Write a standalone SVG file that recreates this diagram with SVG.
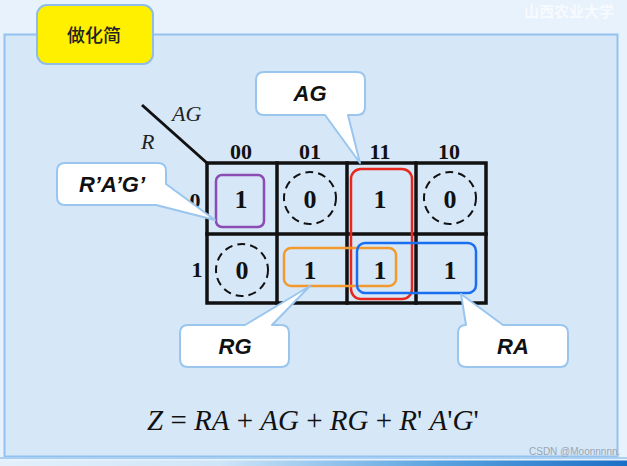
<svg xmlns="http://www.w3.org/2000/svg" width="627" height="466" viewBox="0 0 627 466">
<defs>
<linearGradient id="bar" x1="0" y1="0" x2="1" y2="0">
<stop offset="0" stop-color="#e3f0fb"/>
<stop offset="0.35" stop-color="#cfe5f8"/>
<stop offset="0.7" stop-color="#5aa3e0"/>
<stop offset="1" stop-color="#1c6fc6"/>
</linearGradient>
<style>
.callout{fill:#ffffff;stroke:#9ac6ee;stroke-width:2;stroke-linejoin:round}
.ctext{font-family:"Liberation Sans",Arial,sans-serif;font-weight:bold;font-style:italic;font-size:22px;fill:#111;text-anchor:middle}
.grid{fill:none;stroke:#111;stroke-width:3.5;stroke-linecap:square}
.hdr{font-family:"Liberation Serif","Times New Roman",serif;font-weight:bold;font-size:22px;fill:#111;text-anchor:middle}
.val{font-family:"Liberation Serif","Times New Roman",serif;font-weight:bold;font-size:26px;fill:#111;text-anchor:middle}
.ital{font-family:"Liberation Serif","Times New Roman",serif;font-style:italic;font-size:22px;fill:#222}
.dash{fill:none;stroke:#111;stroke-width:2;stroke-dasharray:8 5}
.grp{fill:none;stroke-width:2.5}
</style>
</defs>
<rect x="0" y="0" width="627" height="466" fill="#e8f2fc"/>
<text x="524" y="17" font-family="'Noto Sans CJK SC',sans-serif" font-weight="bold" font-size="15" fill="#ffffff" fill-opacity="0.7">山西农业大学</text>
<rect id="panel" x="4.5" y="34.5" width="613" height="422" fill="#d6e7f8" stroke="#93c2ee" stroke-width="2"/>
<line x1="0" y1="458" x2="627" y2="458" stroke="#a9d0f3" stroke-width="2"/>
<rect x="0" y="460.5" width="627" height="5.5" fill="url(#bar)"/>

<g id="title">
<rect x="37" y="5" width="116" height="59" rx="10" fill="#fff000" stroke="#8fbde6" stroke-width="2"/>
<text x="94" y="42" font-family="'Noto Sans CJK SC',sans-serif" font-weight="500" font-size="18" fill="#222" text-anchor="middle">做化简</text>
</g>

<g id="kmap">
<line x1="142" y1="105" x2="207" y2="163" stroke="#111" stroke-width="3"/>
<text class="ital" x="172" y="121">AG</text>
<text class="ital" x="141" y="149">R</text>
<text class="hdr" x="241" y="159">00</text>
<text class="hdr" x="310" y="159">01</text>
<text class="hdr" x="380" y="159">11</text>
<text class="hdr" x="449" y="159">10</text>
<text class="hdr" x="195" y="208">0</text>
<text class="hdr" x="197" y="277">1</text>
<rect class="grid" x="207" y="163" width="279" height="140"/>
<line class="grid" x1="277" y1="163" x2="277" y2="303"/>
<line class="grid" x1="347" y1="163" x2="347" y2="303"/>
<line class="grid" x1="416" y1="163" x2="416" y2="303"/>
<line class="grid" x1="207" y1="234" x2="486" y2="234"/>
<circle class="dash" cx="310" cy="198" r="26"/>
<circle class="dash" cx="450" cy="198" r="26"/>
<circle class="dash" cx="242" cy="270" r="26"/>
<text class="val" x="241" y="208">1</text>
<text class="val" x="310" y="208">0</text>
<text class="val" x="380" y="208">1</text>
<text class="val" x="450" y="208">0</text>
<text class="val" x="242" y="279">0</text>
<text class="val" x="310" y="279">1</text>
<text class="val" x="380" y="279">1</text>
<text class="val" x="450" y="279">1</text>
</g>

<g id="groups">
<rect class="grp" x="216" y="175" width="48" height="52" rx="6" stroke="#8b4db3"/>
<rect class="grp" x="351" y="169" width="61" height="130" rx="10" stroke="#e8281e"/>
<rect class="grp" x="284" y="248" width="112" height="38" rx="7" stroke="#f39a2e"/>
<rect class="grp" x="357" y="243" width="119" height="50" rx="8" stroke="#1a6ff0"/>
</g>

<g id="connectors">
<g id="callout-AG">
<path class="callout" d="M264,72 H357 Q365,72 365,80 V107 Q365,115 357,115 H348 L360,163 L325,115 H264 Q256,115 256,107 V80 Q256,72 264,72 Z"/>
<text class="ctext" x="310" y="101">AG</text>
</g>
<g id="callout-RAG">
<path class="callout" d="M65,163 H158 Q166,163 166,171 V184 L215,220 L156,205 H65 Q57,205 57,197 V171 Q57,163 65,163 Z"/>
<text class="ctext" x="112" y="192">R’A’G’</text>
</g>
<g id="callout-RG">
<path class="callout" d="M188,325 H245 L310,286 L272,325 H281 Q289,325 289,333 V359 Q289,367 281,367 H188 Q180,367 180,359 V333 Q180,325 188,325 Z"/>
<text class="ctext" x="235" y="354">RG</text>
</g>
<g id="callout-RA">
<path class="callout" d="M466,325 L461,294 L503,325 H560 Q568,325 568,333 V359 Q568,367 560,367 H466 Q458,367 458,359 V333 Q458,325 466,325 Z"/>
<text class="ctext" x="513" y="354">RA</text>
</g>
</g>

<g id="equation">
<text x="147" y="430" font-family="'Liberation Serif','Times New Roman',serif" font-size="29" fill="#111" xml:space="preserve"><tspan font-style="italic">Z</tspan> = <tspan font-style="italic">RA</tspan> + <tspan font-style="italic">AG</tspan> + <tspan font-style="italic">RG</tspan> + <tspan font-style="italic">R</tspan>' <tspan font-style="italic">A</tspan>'<tspan font-style="italic">G</tspan>'</text>
</g>

<text x="529" y="455" font-family="'Liberation Sans',sans-serif" font-size="10" fill="#9aa6b2">CSDN @Moonnnnn.</text>
</svg>
